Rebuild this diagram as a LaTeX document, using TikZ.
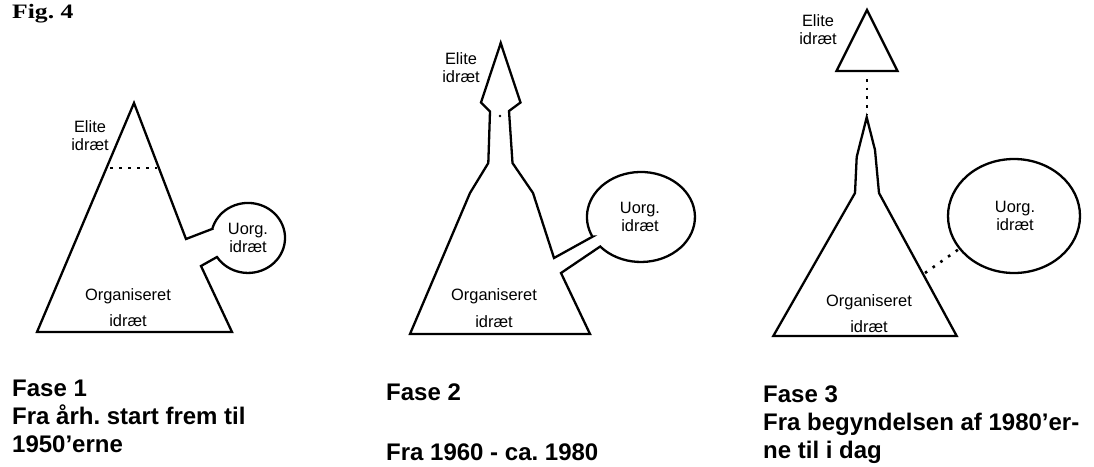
\documentclass[tikz,border=0pt]{standalone}
\usepackage{fontspec}
\usepackage{graphicx}
\setmainfont{Liberation Sans}
\newfontfamily\figfont{Liberation Serif}
\frenchspacing
\begin{document}
\begin{tikzpicture}[x=1pt,y=-1pt,
  shapeline/.style={draw=black, line width=2.3pt, line join=miter},
  dotline/.style={draw=black, line width=2.6pt, dash pattern=on 2.6pt off 6.4pt},
  lbl/.style={font=\fontsize{16.4}{18}\selectfont, align=center, inner sep=0pt, anchor=base},
  phase/.style={font=\fontsize{24}{28}\selectfont\bfseries, align=left, inner sep=0pt, anchor=base west}]
\useasboundingbox (0,0) rectangle (1094,466);

% title
\node[inner sep=0pt, anchor=base west, font=\figfont\fontsize{20.5}{22}\selectfont\bfseries] (title) at (12,18) {\scalebox{1.25}[1]{Fig. 4}};

% ---------- Fase 1 ----------
\draw[shapeline] (212.3,228.9) -- (186,239) -- (134,103) -- (37,332) -- (232,332) -- (201,266) -- (217,257)
  arc[start angle=147, end angle=-165, x radius=37, y radius=35] -- cycle;
\coordinate (d1a) at (110,168);
\coordinate (d1b) at (157,168);
\draw[dotline] (d1a) -- (d1b);
\node[lbl] (e1) at (90,150) {Elite\\idræt};
\node[lbl] (u1) at (248,252) {Uorg.\\idræt};
\node[lbl] (o1) at (128,326) {Organiseret\\[8pt]idræt};

% ---------- Fase 2 ----------
\draw[shapeline] (592.5,236.7) -- (554,258) -- (533,193) -- (512.5,163) -- (509,111) -- (520.5,102.5)
  -- (500.7,43) -- (481,102.5) -- (490,111.5) -- (488.3,163) -- (470,193) -- (410,334) -- (590,334)
  -- (561,273) -- (600.2,246.5) arc[start angle=139, end angle=-206, x radius=54, y radius=45] -- cycle;
\fill[black] (500,116) circle[radius=1.3];
\node[lbl] (e2) at (461,82) {Elite\\idræt};
\node[lbl] (u2) at (640,231) {Uorg.\\idræt};
\node[lbl] (o2) at (494,327) {Organiseret\\[9pt]idræt};

% ---------- Fase 3 ----------
\draw[shapeline] (866.7,117.3) -- (856.7,157) -- (855,193) -- (773.3,336) -- (956.7,336) -- (879,193) -- (875,150) -- cycle;
\draw[shapeline] (867,10) -- (836.5,71) -- (897.5,71) -- cycle;
\draw[shapeline] (1014,216) ellipse[x radius=66, y radius=57];
\coordinate (d3a) at (867,79);
\coordinate (d3b) at (867,115);
\draw[dotline, dash pattern=on 2.6pt off 6.1pt] (d3a) -- (d3b);
\coordinate (d3c) at (925,273);
\coordinate (d3d) at (959,249);
\draw[dotline, dash pattern=on 2.6pt off 6.8pt] (d3c) -- (d3d);
\node[lbl] (e3) at (818,44) {Elite\\idræt};
\node[lbl] (u3) at (1015,230) {Uorg.\\idræt};
\node[lbl] (o3) at (869,332) {Organiseret\\[8pt]idræt};

% ---------- captions ----------
\node[phase] (f1) at (12,452) {Fase 1\\Fra årh. start frem til\\1950’erne};
\node[phase] (f2) at (386,460) {Fase 2\\[32pt]Fra 1960 - ca. 1980};
\node[phase] (f3) at (763,458) {Fase 3\\Fra begyndelsen af 1980’er-\\ne til i dag};
\end{tikzpicture}
\end{document}
